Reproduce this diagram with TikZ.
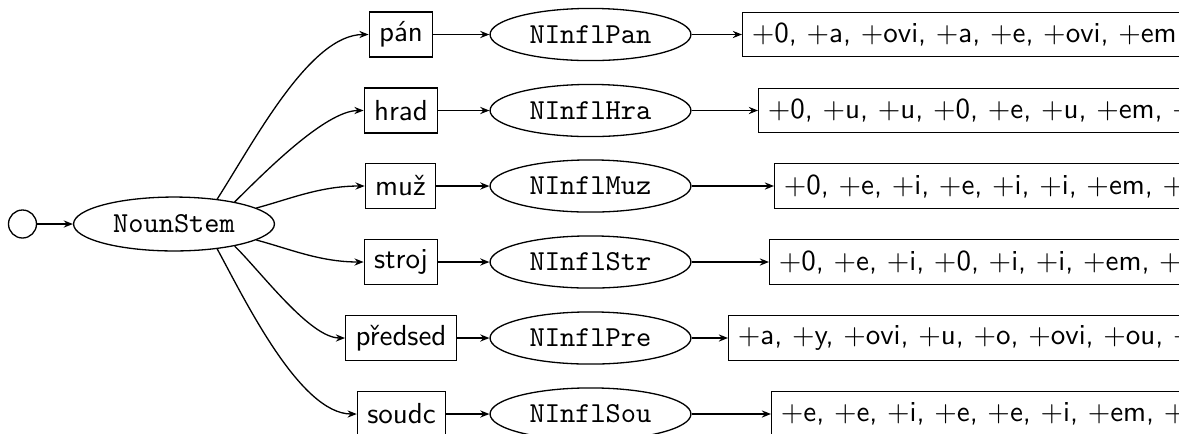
\documentclass[tikz,border=0pt]{standalone}
\usepackage{fontspec}
\usetikzlibrary{shapes.geometric,arrows.meta}
\begin{document}
\begin{tikzpicture}[x=0.345pt,y=-0.345pt,
  every node/.style={inner sep=0pt, font=\sffamily},
  initst/.style={circle, draw, minimum size=9.66pt},
  stemst/.style={ellipse, draw, minimum width=69.3pt, minimum height=18.6pt, font=\ttfamily},
  inflst/.style={ellipse, draw, minimum width=69.3pt, minimum height=18pt, font=\ttfamily},
  wordst/.style={rectangle, draw, minimum height=15.5pt, inner xsep=3.4pt},
  endst/.style={rectangle, draw, minimum height=15.3pt, inner xsep=3.2pt, anchor=west},
  link/.style={-{Stealth[length=3.2pt,width=2.5pt,inset=1.1pt]}, line width=0.45pt},
  line width=0.45pt]
\useasboundingbox (0,0) rectangle (1179,433);
\clip (0,0) rectangle (1179,433);

% start state and stem
\node[initst] (init) at (22.5,224) {};
\node[stemst] (ns) at (174,224) {NounStem};

% stems
\node[wordst] (pan) at (401,34.5) {pán};
\node[wordst] (hra) at (401,110.5) {hrad};
\node[wordst] (muz) at (400.5,186) {muž};
\node[wordst] (str) at (401,262) {stroj};
\node[wordst] (pre) at (401,338) {předsed};
\node[wordst] (sou) at (401.5,414) {soudc};

% inflection classes
\node[inflst] (ipan) at (590.5,34.5) {NInflPan};
\node[inflst] (ihra) at (590.5,110.5) {NInflHra};
\node[inflst] (imuz) at (590.5,186) {NInflMuz};
\node[inflst] (istr) at (590.5,262) {NInflStr};
\node[inflst] (ipre) at (590.5,338) {NInflPre};
\node[inflst] (isou) at (590.5,414) {NInflSou};

% ending lists
\node[endst] (epan) at (742,34.5) {$+$0, $+$a, $+$ovi, $+$a, $+$e, $+$ovi, $+$em};
\node[endst] (ehra) at (758,110.5) {$+$0, $+$u, $+$u, $+$0, $+$e, $+$u, $+$em, $+$};
\node[endst] (emuz) at (774,186) {$+$0, $+$e, $+$i, $+$e, $+$i, $+$i, $+$em, $+$};
\node[endst] (estr) at (769,262) {$+$0, $+$e, $+$i, $+$0, $+$i, $+$i, $+$em, $+$};
\node[endst] (epre) at (728,338) {$+$a, $+$y, $+$ovi, $+$u, $+$o, $+$ovi, $+$ou, $+$};
\node[endst] (esou) at (771,414) {$+$e, $+$e, $+$i, $+$e, $+$e, $+$i, $+$em, $+$};

% connectors
\draw[link] (init) -- (ns);
\draw[link] (ns.30) .. controls (255,140) and (310,34.5) .. (pan);
\draw[link] (ns.20) .. controls (262,175) and (325,110.5) .. (hra);
\draw[link] (ns.11) .. controls (290,199) and (320,186) .. (muz);
\draw[link] (ns.-11) .. controls (290,249) and (320,262) .. (str);
\draw[link] (ns.-20) .. controls (262,273) and (310,338) .. (pre);
\draw[link] (ns.-30) .. controls (245,300) and (300,414) .. (sou);

\foreach \s in {pan,hra,muz,str,pre,sou}{
  \draw[link] (\s) -- (i\s);
  \draw[link] (i\s) -- (e\s);
}
\end{tikzpicture}
\end{document}
